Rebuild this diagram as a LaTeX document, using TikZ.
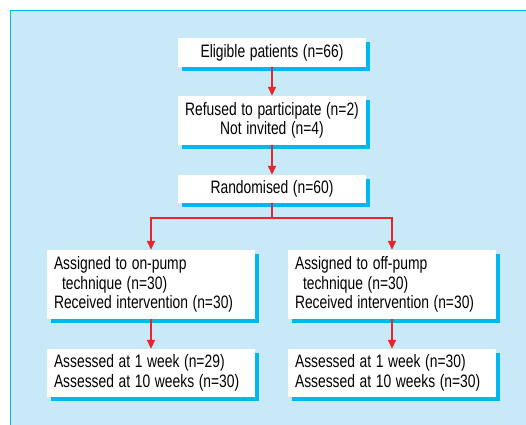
\documentclass[tikz,border=0pt]{standalone}
\usepackage{fontspec}
\setmainfont{Liberation Sans}[FakeStretch=0.77, WordSpace=1.2]
\usetikzlibrary{positioning,calc,arrows.meta,shadows}
\definecolor{panelblue}{RGB}{200,234,248}
\definecolor{edgecyan}{RGB}{0,184,240}
\definecolor{arrowred}{RGB}{232,38,42}
\tikzset{font=\fontsize{18}{19.5}\selectfont}

\begin{document}
\begin{tikzpicture}[x=1pt, y=-1pt]
	\useasboundingbox (0, 0) rectangle (526, 424);
	\fill[white] (0, 0) rectangle (526, 424);
	\draw[edgecyan, line width=1.5pt, fill=panelblue] (10.5, 10.5) rectangle (540, 440);
	\begin{scope}
		\tikzstyle{every node}=[fill=white, inner sep=0pt,
			drop shadow={shadow xshift=3.5pt, shadow yshift=-3.5pt, fill=edgecyan, opacity=1}]
		\tikzstyle{topbox}=[minimum width=188pt, align=center]
		\tikzstyle{armbox}=[text width=194pt, inner xsep=7pt, align=flush left]
		\node[topbox, minimum height=29pt] (elig) at (272, 52.5) {Eligible patients (n=66)};
		\node[topbox, minimum height=49pt] (refused) at (272, 120.5) {Refused to participate (n=2)\\Not invited (n=4)};
		\node[topbox, minimum height=28pt] (rand) at (272, 189) {Randomised (n=60)};
		\node[armbox, minimum height=69pt] (onpump) at (151, 284.5) {Assigned to on-pump\\\hspace{8pt}technique (n=30)\\Received intervention (n=30)};
		\node[armbox, minimum height=69pt] (offpump) at (392, 284.5) {Assigned to off-pump\\\hspace{8pt}technique (n=30)\\Received intervention (n=30)};
		\node[armbox, minimum height=48pt] (onweek) at (151, 373) {Assessed at 1 week (n=29)\\Assessed at 10 weeks (n=30)};
		\node[armbox, minimum height=48pt] (offweek) at (392, 373) {Assessed at 1 week (n=30)\\Assessed at 10 weeks (n=30)};
	\end{scope}
	\coordinate (split) at (272, 218);

	\tikzstyle{flow}=[arrowred, line width=1.5pt, -{Triangle[length=9pt, width=8pt]}]
	\draw[flow] (elig) -- (refused);
	\draw[flow] (refused) -- (rand);
	\draw[arrowred, line width=1.5pt] (rand) -- (split);
	\draw[flow] (split) -| (onpump);
	\draw[flow] (split) -| (offpump);
	\draw[flow] (onpump) -- (onweek);
	\draw[flow] (offpump) -- (offweek);
\end{tikzpicture}
\end{document}
